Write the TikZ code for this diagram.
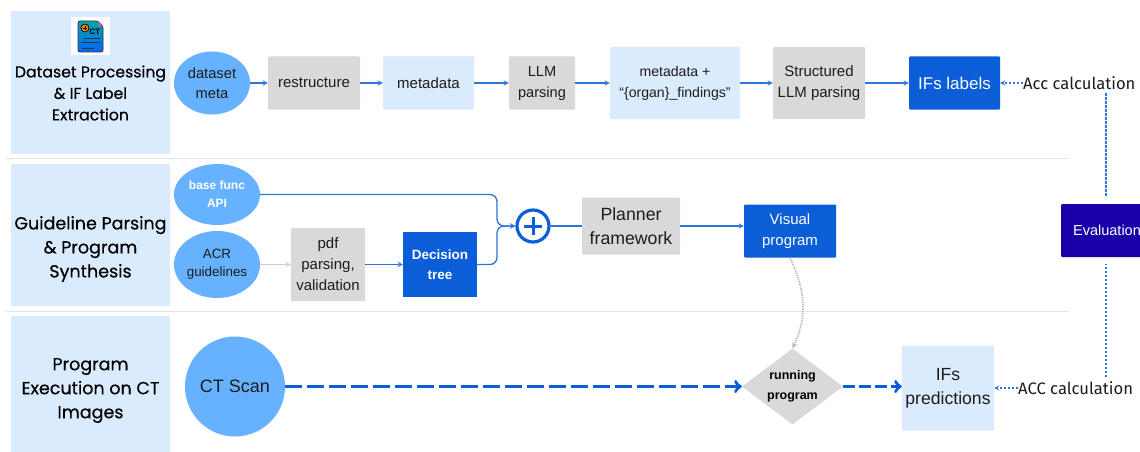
\documentclass[tikz,border=0pt]{standalone}
\usepackage{fontspec}
\setmainfont{Liberation Sans}
\newfontfamily\headfont[FakeBold=0.4]{Poppins}
\newfontfamily\notefont{Fira Sans}
\usetikzlibrary{shapes.geometric}
\definecolor{panelblue}{HTML}{DBEBFE}
\definecolor{skyblue}{HTML}{66B2FF}
\definecolor{boxgray}{HTML}{D9D9D9}
\definecolor{strongblue}{HTML}{0B5ED7}
\definecolor{flowblue}{HTML}{2F74DC}
\definecolor{evalblue}{HTML}{1A00A8}
\definecolor{rulegray}{HTML}{E3E3E3}
\definecolor{inkdark}{HTML}{1C1C1C}
\tikzset{
    panel/.style={fill=panelblue,minimum width=159pt,inner sep=0pt,align=center,font=\headfont\fontsize{17.5}{24}\selectfont,text=black},
    oval/.style={ellipse,fill=skyblue,inner sep=0pt,align=center,text=inkdark,font=\fontsize{14.7}{20}\selectfont},
    graybox/.style={rectangle,rounded corners=1pt,fill=boxgray,inner sep=0pt,align=center,text=inkdark,font=\fontsize{15}{21}\selectfont},
    lightbox/.style={graybox,fill=panelblue},
    bluebox/.style={graybox,fill=strongblue,text=white},
    flow/.style={->,>=stealth,flowblue,line width=1.3pt},
    dashflow/.style={->,>=stealth,flowblue,line width=1.2pt,dash pattern=on 2.5pt off 1.5pt},
    evalline/.style={flowblue,line width=1.1pt,dash pattern=on 2.5pt off 1.5pt},
    thickflow/.style={->,strongblue,line width=3.4pt,dash pattern=on 17pt off 5pt},
    grayflow/.style={->,>=stealth,gray!55,line width=1.3pt},
    note/.style={font=\notefont\fontsize{16.6}{18}\selectfont,text=inkdark,inner sep=0pt},
    sepline/.style={rulegray,line width=1.2pt}
}
\begin{document}
\begin{tikzpicture}[x=1pt,y=-1pt]
    \useasboundingbox (0,0) rectangle (1140,452);
    \clip (0,0) rectangle (1140,452);
    \fill[white] (0,0) rectangle (1140,452);
    % left column
    \node[panel,minimum height=143pt] (panelA) at (90.5,82.5) {};
    \node[panel,minimum height=142pt] (panelB) at (90.5,235) {};
    \node[panel,minimum height=136pt] (panelC) at (90.5,384) {};
    \node[panel,fill=none,font=\headfont\fontsize{15.7}{21.5}\selectfont] (titleA) at (90.5,93) {Dataset Processing\\\& IF Label\\Extraction};
    \node[panel,fill=none] (titleB) at (90.5,249) {Guideline Parsing\\\& Program\\Synthesis};
    \node[panel,fill=none] (titleC) at (90.5,390.5) {Program\\Execution on CT\\Images};
    \draw[sepline] (6,158.5) -- (1069,158.5);
    \draw[sepline] (6,311.5) -- (1069,311.5);
    % icon
    \fill[white] (71,17) rectangle (110,55);
    \shade[top color=teal!70!cyan,bottom color=blue!60!cyan,draw=black!80,line width=.7pt,rounded corners=2pt] (78,21) -- (98,21) -- (103,26) -- (103,52) -- (78,52) -- cycle;
    \fill[violet!60] (98,21) -- (103,26) -- (98,26) -- cycle;
    \draw[black,fill=orange,line width=.7pt] (85,28) circle (4);
    \draw[black,line width=.6pt] (83,28) -- (87,28);
    \draw[black,line width=.6pt] (85,26) -- (85,30);
    \node[inner sep=0pt,font=\bfseries\fontsize{8}{8}\selectfont] (iconct) at (95,32) {CT};
    \draw[black!80,line width=.7pt] (84,38) -- (100,38);
    \draw[black!80,line width=.7pt] (82,42) -- (100,42);
    \draw[black!80,line width=.7pt] (82,48) -- (94,48);
    % top row
    \node[oval,minimum width=76pt,minimum height=63pt] (datameta) at (212,83) {dataset\\meta};
    \node[graybox,minimum width=92pt,minimum height=53pt] (restruct) at (314,83) {restructure};
    \node[lightbox,minimum width=91pt,minimum height=53pt] (metadata) at (428.5,83) {metadata};
    \node[graybox,minimum width=66pt,minimum height=53pt,font=\fontsize{14.6}{21}\selectfont] (llmparse) at (542,83) {LLM\\parsing};
    \node[lightbox,minimum width=130pt,minimum height=72pt,font=\fontsize{14.1}{21}\selectfont] (metaorgan) at (675,83) {metadata +\\“\{organ\}\_findings”};
    \node[graybox,minimum width=92pt,minimum height=72pt] (structllm) at (819,83) {Structured\\LLM parsing};
    \node[bluebox,minimum width=91pt,minimum height=53pt,font=\fontsize{17}{20}\selectfont] (iflabels) at (954.5,83) {IFs labels};
    \node[note,anchor=west] (acctop) at (1023,83) {Acc calculation};
    \draw[flow] (datameta) -- (restruct);
    \draw[flow] (restruct) -- (metadata);
    \draw[flow] (metadata) -- (llmparse);
    \draw[flow] (llmparse) -- (metaorgan);
    \draw[flow] (metaorgan) -- (structllm);
    \draw[flow] (structllm) -- (iflabels);
    \draw[dashflow] (acctop) -- (iflabels);
    % middle row
    \node[oval,minimum width=86pt,minimum height=61pt,text=white,font=\bfseries\fontsize{12}{18}\selectfont] (basefunc) at (217,194.5) {base func\\API};
    \node[oval,minimum width=86pt,minimum height=67pt,font=\fontsize{13.4}{18}\selectfont] (acrguide) at (217,264.5) {ACR\\guidelines};
    \node[graybox,minimum width=74pt,minimum height=73pt] (pdfparse) at (328,264.5) {pdf\\parsing,\\validation};
    \node[bluebox,rounded corners=0pt,minimum width=74pt,minimum height=65pt,font=\bfseries\fontsize{13.5}{20}\selectfont] (dectree) at (440,264.5) {Decision\\tree};
    \node[circle,draw=strongblue,fill=white,line width=3.2pt,minimum size=32pt,inner sep=0pt] (plus) at (533,226) {};
    \node[graybox,minimum width=98pt,minimum height=57pt,font=\fontsize{17.7}{23.5}\selectfont] (planner) at (631,226) {Planner\\framework};
    \node[bluebox,minimum width=92pt,minimum height=53pt] (visprog) at (790,231) {Visual\\program};
    \node[graybox,rounded corners=1pt,fill=evalblue,text=white,minimum width=92pt,minimum height=53pt,font=\fontsize{14.5}{20}\selectfont] (evalbox) at (1107,230.5) {Evaluation};
    \coordinate (joinpt) at (497,226);
    \draw[strongblue,line width=3pt] ([xshift=-9pt]plus.center) -- ([xshift=9pt]plus.center);
    \draw[strongblue,line width=3pt] ([yshift=-9pt]plus.center) -- ([yshift=9pt]plus.center);
    \draw[flow,rounded corners=7pt] (basefunc.east) -| (joinpt) -- (plus.west);
    \draw[flow,rounded corners=7pt] (dectree.east) -| (joinpt) -- (plus.west);
    \draw[grayflow,gray!40] (acrguide) -- (pdfparse);
    \draw[flow] (pdfparse) -- (dectree);
    \draw[flowblue,line width=1.3pt] (plus.east) -- (planner.west);
    \draw[flow] (planner.east) -- (visprog.west |- planner.east);
    % bottom row
    \node[circle,fill=skyblue,minimum size=100pt,inner sep=0pt,text=inkdark,font=\fontsize{18}{22}\selectfont] (ctscan) at (235,386.5) {CT Scan};
    \node[diamond,aspect=1.33,fill=boxgray,minimum width=101pt,minimum height=76pt,inner sep=0pt,align=center,text=black,font=\bfseries\fontsize{12.5}{20}\selectfont] (runprog) at (792.5,386.5) {running\\program};
    \node[lightbox,minimum width=92pt,minimum height=85pt,font=\fontsize{17.6}{24}\selectfont] (ifpred) at (948,388) {IFs\\predictions};
    \node[note,anchor=west] (accbot) at (1018,388) {ACC calculation};
    \draw[thickflow] (ctscan.east) -- (runprog.west);
    \draw[thickflow,dash pattern=on 12pt off 4pt] (runprog.east) -- (ifpred.west |- runprog.east);
    \draw[dashflow] (accbot) -- (ifpred.east |- accbot);
    \draw[grayflow,densely dotted,line width=1.6pt] (visprog.south) .. controls (805,290) and (808,315) .. (runprog.north);
    % evaluation lines
    \coordinate (evaltop) at (1106,93);
    \coordinate (evalbot) at (1106,377);
    \draw[evalline] (evaltop) -- (1106,197);
    \draw[evalline] (evalbot) -- (1106,264);
\end{tikzpicture}
\end{document}
